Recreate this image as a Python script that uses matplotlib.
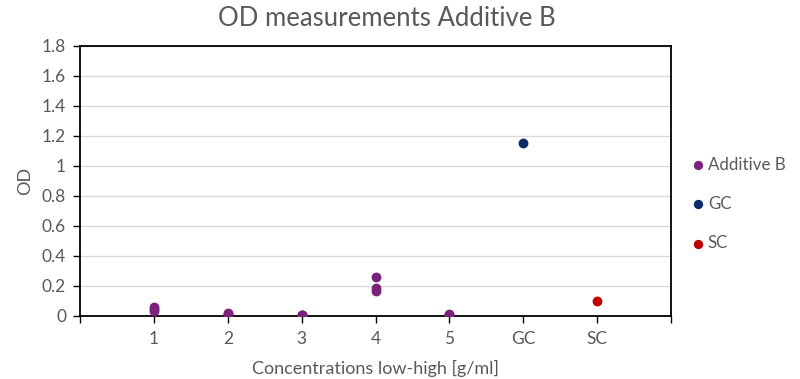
import matplotlib
matplotlib.use("Agg")
import matplotlib.pyplot as plt

plt.rcParams['font.family'] = ['Lato', 'DejaVu Sans']

# Category labels along the x axis
categories = ["1", "2", "3", "4", "5", "GC", "SC"]

# Additive B replicates per concentration (positions 1-5)
additive_x = [1, 1, 1, 2, 2, 2, 3, 3, 3, 4, 4, 4, 5, 5, 5]
additive_y = [0.06, 0.045, 0.03, 0.02, 0.012, 0.008, 0.008, 0.004, 0.002,
              0.26, 0.188, 0.165, 0.01, 0.005, 0.002]

# Controls
gc_x = [6]
gc_y = [1.155]
sc_x = [7]
sc_y = [0.096]

y_ticks = [0, 0.2, 0.4, 0.6, 0.8, 1, 1.2, 1.4, 1.6, 1.8]
y_tick_labels = ["0", "0.2", "0.4", "0.6", "0.8", "1", "1.2", "1.4", "1.6", "1.8"]

text_color = "#595959"

fig = plt.figure(figsize=(8.0, 3.79), dpi=100)
ax = fig.add_axes([0.100, 0.167, 0.739, 0.712])

ms = 50
ax.scatter(additive_x, additive_y, s=ms, color="#7B237B", label="Additive B", zorder=3, linewidths=0)
ax.scatter(gc_x, gc_y, s=ms, color="#0B2A6B", label="GC", zorder=3, linewidths=0)
ax.scatter(sc_x, sc_y, s=ms, color="#C00000", label="SC", zorder=3, linewidths=0)

ax.set_xlim(0, 8)
ax.set_ylim(0, 1.8)
ax.set_xticks(range(0, 9))
ax.set_xticklabels([""] + categories + [""])
ax.set_yticks(y_ticks)
ax.set_yticklabels(y_tick_labels)

ax.grid(axis="y", color="#d9d9d9", linewidth=1.0, zorder=0)
ax.set_axisbelow(True)
for sp in ax.spines.values():
    sp.set_color("black")
    sp.set_linewidth(1.3)

ax.tick_params(axis="both", direction="out", length=5, width=1.0, color="black",
               labelcolor=text_color, labelsize=12.5)
ax.tick_params(axis="x", pad=6)
ax.tick_params(axis="y", pad=5)

ax.set_xlabel("Concentrations low-high [g/ml]", color=text_color, fontsize=13, labelpad=9)
ax.set_ylabel("OD", color=text_color, fontsize=13, labelpad=6)
fig.suptitle("OD measurements Additive B", x=0.484, y=0.985, color=text_color, fontsize=18.5)

leg = fig.legend(loc="center left", bbox_to_anchor=(0.853, 0.462), frameon=False,
                 fontsize=12.2, labelcolor=text_color, handletextpad=0.1,
                 labelspacing=1.38, markerscale=0.95, borderaxespad=0, handlelength=1.0)

fig.savefig("out.png", dpi=100)
